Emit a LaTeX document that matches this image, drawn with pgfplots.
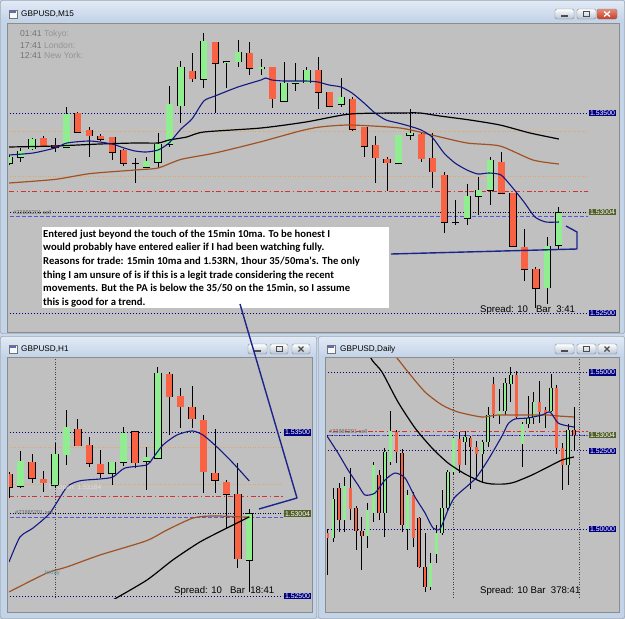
\documentclass[border=0pt]{standalone}
\usepackage{pgfplots}
\pgfplotsset{compat=1.18}
\usepackage{pgfplotstable}
\usepackage{fontspec}
\setmainfont{Liberation Sans}
\newfontfamily\carlito{Carlito}[BoldFont={Carlito Bold}]

\definecolor{chartbg}{RGB}{192,192,192}
\definecolor{frameblue}{RGB}{196,212,232}
\definecolor{titletop}{RGB}{224,233,245}
\definecolor{bull}{RGB}{144,238,144}
\definecolor{bear}{RGB}{250,98,68}
\definecolor{navyc}{RGB}{0,0,128}
\definecolor{maBlue}{RGB}{20,24,130}
\definecolor{maBrown}{RGB}{160,82,36}
\definecolor{orangeDot}{RGB}{226,166,96}
\definecolor{redDash}{RGB}{214,48,48}
\definecolor{blueDash}{RGB}{78,88,224}
\definecolor{tickgray}{RGB}{84,92,76}
\definecolor{olivebox}{RGB}{82,96,44}
\definecolor{annot}{RGB}{28,36,140}
\definecolor{closeTop}{RGB}{232,140,120}
\definecolor{closeBot}{RGB}{196,60,40}
\definecolor{todayc}{RGB}{90,150,160}

\tikzset{
  navydot/.style={navyc, line width=0.6pt, dash pattern=on 1.5pt off 1.5pt},
  biddot/.style={black!60!navyc, line width=0.6pt, dash pattern=on 1.2pt off 1.3pt},
  orangedot/.style={orangeDot, line width=0.55pt, dash pattern=on 1pt off 1.5pt},
  reddash/.style={redDash, line width=0.8pt, dash pattern=on 5pt off 2.5pt on 1.5pt off 2.5pt},
  bluedash/.style={blueDash, line width=0.8pt, dash pattern=on 4pt off 2pt},
  vdot/.style={black!75, line width=0.5pt, dash pattern=on 1pt off 1.5pt},
  pricebox/.style={anchor=west, fill=#1, text=white, font=\fontsize{6.9}{8}\selectfont, inner sep=0.8pt, xshift=1pt},
  mtbtn/.style={draw=black!45, rounded corners=1.5pt, top color=white, bottom color=frameblue!80!gray},
}

\pgfplotsset{
  mtaxis/.style={
    scale only axis, anchor=north west, clip mode=individual, set layers,
    axis background/.style={fill=chartbg},
    axis line style={draw=black!50, line width=0.5pt},
    xtick pos=left, ytick pos=right, tick align=outside,
    major tick length=2.5pt, tick style={black!55, line width=0.4pt},
    xticklabel style={font=\fontsize{6.9}{8}\selectfont, text=tickgray, anchor=north west, inner sep=0pt, xshift=0.5pt, yshift=-1.5pt},
    yticklabel style={font=\fontsize{6.9}{8}\selectfont, text=tickgray, anchor=west, inner sep=0pt, xshift=1.5pt},
  },
}

\newcommand\candles[6]{%
  \addplot[draw=none, mark=none, forget plot, error bars/.cd, y dir=both, y explicit, error mark=none,
    error bar style={draw=black, line width=#6}]
    table[x=x, y expr={(\thisrow{h}+\thisrow{l})/2}, y error expr={(\thisrow{h}-\thisrow{l})/2}]{#1};
  \addplot[draw=none, mark=none, forget plot, error bars/.cd, y dir=both, y explicit, error mark=none,
    error bar style={draw=black, line width=#3}]
    table[x=x, y expr={(\thisrow{o}+\thisrow{c})/2}, y error expr={abs(\thisrow{c}-\thisrow{o})/2+#5}]{#1};
  \addplot[draw=none, mark=none, forget plot, error bars/.cd, y dir=both, y explicit, error mark=none,
    error bar style={draw=#2, line width=#4}]
    table[x=x, y expr={(\thisrow{o}+\thisrow{c})/2}, y error expr={abs(\thisrow{c}-\thisrow{o})/2}]{#1};
}

% ---------------- M15 ----------------
\pgfplotstableread{
x o h l c
0 1.53250 1.53290 1.53240 1.53280
1 1.53280 1.53325 1.53255 1.53310
2 1.53320 1.53375 1.53315 1.53370
5 1.53330 1.53530 1.53330 1.53495
11 1.53250 1.53275 1.53150 1.53250
12 1.53230 1.53280 1.53230 1.53260
13 1.53255 1.53400 1.53225 1.53345
14 1.53345 1.53635 1.53330 1.53545
15 1.53535 1.53760 1.53450 1.53730
17 1.53670 1.53900 1.53625 1.53860
19 1.53752 1.53760 1.53625 1.53758
20 1.53755 1.53865 1.53730 1.53805
22 1.53720 1.53770 1.53690 1.53730
24 1.53560 1.53755 1.53555 1.53650
25 1.53650 1.53750 1.53610 1.53660
26 1.53650 1.53730 1.53650 1.53715
29 1.53545 1.53675 1.53530 1.53580
34 1.53250 1.53390 1.53250 1.53390
35 1.53390 1.53520 1.53365 1.53400
39 1.52955 1.53065 1.52940 1.52955
40 1.52975 1.53145 1.52940 1.53085
41 1.53085 1.53180 1.52990 1.53115
42 1.53115 1.53280 1.53040 1.53265
47 1.52625 1.52880 1.52545 1.52835
48 1.52840 1.53030 1.52820 1.53004
}\mBull
\pgfplotstableread{
x o h l c
3 1.53375 1.53385 1.53330 1.53335
4 1.53340 1.53375 1.53305 1.53330
6 1.53500 1.53505 1.53400 1.53405
7 1.53415 1.53430 1.53280 1.53385
8 1.53385 1.53395 1.53360 1.53370
9 1.53380 1.53380 1.53265 1.53305
10 1.53315 1.53320 1.53235 1.53250
16 1.53710 1.53800 1.53655 1.53670
18 1.53855 1.53855 1.53500 1.53750
21 1.53800 1.53855 1.53690 1.53725
23 1.53730 1.53730 1.53525 1.53570
27 1.53715 1.53780 1.53520 1.53605
28 1.53605 1.53605 1.53530 1.53535
30 1.53570 1.53580 1.53410 1.53420
31 1.53430 1.53430 1.53280 1.53335
32 1.53340 1.53385 1.53150 1.53275
33 1.53270 1.53280 1.53110 1.53250
36 1.53395 1.53405 1.53255 1.53270
37 1.53275 1.53400 1.53125 1.53205
38 1.53190 1.53205 1.52900 1.52955
43 1.53255 1.53305 1.53095 1.53100
44 1.53100 1.53100 1.52835 1.52835
45 1.52830 1.52920 1.52660 1.52720
46 1.52720 1.52730 1.52525 1.52625
}\mBear

% ---------------- H1 ----------------
\pgfplotstableread{
x o h l c
-3 1.53173 1.53387 1.53161 1.53326
0 1.53179 1.53436 1.53161 1.53369
1 1.53363 1.53638 1.53302 1.53534
5 1.53253 1.53320 1.53179 1.53320
6 1.53320 1.53534 1.53296 1.53497
8 1.53326 1.53412 1.53149 1.53351
9 1.53344 1.53901 1.53344 1.53864
17 1.52721 1.53032 1.52525 1.53004
}\hBull
\pgfplotstableread{
x o h l c
-4 1.53247 1.53259 1.53100 1.53167
-2 1.53320 1.53369 1.53192 1.53222
-1 1.53216 1.53265 1.53137 1.53192
2 1.53522 1.53583 1.53418 1.53418
3 1.53424 1.53473 1.53289 1.53314
4 1.53308 1.53393 1.53222 1.53253
7 1.53504 1.53504 1.53283 1.53314
10 1.53858 1.53871 1.53485 1.53718
11 1.53724 1.53773 1.53528 1.53656
12 1.53656 1.53785 1.53528 1.53583
13 1.53577 1.53607 1.53130 1.53259
14 1.53253 1.53522 1.53130 1.53210
15 1.53198 1.53210 1.52916 1.53124
16 1.53124 1.53314 1.52672 1.52727
}\hBear

% ---------------- Daily ----------------
\pgfplotstableread{
x o h l c
1 1.49715 1.51312 1.49587 1.50960
3 1.50290 1.51663 1.49906 1.51376
7 1.49779 1.50833 1.49395 1.50609
8 1.50513 1.52142 1.50226 1.52046
10 1.50513 1.52589 1.49747 1.52462
11 1.52142 1.53771 1.52046 1.53132
14 1.50002 1.51248 1.49332 1.51088
18 1.48150 1.49236 1.48054 1.48916
19 1.49204 1.50130 1.48916 1.49875
20 1.49875 1.51248 1.49811 1.50673
21 1.50673 1.51887 1.50609 1.51823
22 1.51823 1.52941 1.51727 1.52909
24 1.52781 1.53132 1.52046 1.52941
27 1.52398 1.52845 1.51471 1.52781
28 1.52781 1.53899 1.52621 1.53643
30 1.53643 1.54474 1.53356 1.53771
31 1.53771 1.54825 1.53643 1.54666
32 1.54634 1.55177 1.54059 1.54921
34 1.52717 1.53420 1.51983 1.53356
35 1.53356 1.54250 1.53228 1.53548
36 1.53548 1.54378 1.53356 1.54059
39 1.53771 1.54953 1.53739 1.54506
42 1.52046 1.53356 1.51408 1.53164
}\dBull
\pgfplotstableread{
x o h l c
0 1.49875 1.50002 1.48533 1.49715
2 1.51312 1.51471 1.49906 1.50290
4 1.51312 1.51951 1.50290 1.50641
5 1.50673 1.50737 1.49332 1.49938
6 1.49938 1.50386 1.48693 1.49779
9 1.51727 1.51887 1.50290 1.50513
12 1.53100 1.53164 1.52110 1.52462
13 1.52430 1.52557 1.49906 1.50130
15 1.51088 1.51184 1.49427 1.49715
16 1.50354 1.50386 1.48757 1.48789
17 1.48789 1.49875 1.47990 1.48150
23 1.52877 1.53100 1.51791 1.52046
25 1.52909 1.52973 1.51280 1.52621
26 1.52621 1.52813 1.51567 1.52398
29 1.54634 1.54857 1.53548 1.53675
33 1.54921 1.55049 1.53548 1.53580
37 1.54059 1.54729 1.53388 1.53739
38 1.53803 1.53899 1.53228 1.53707
40 1.54506 1.54602 1.52398 1.52589
41 1.52589 1.52749 1.51248 1.52046
43 1.53164 1.53899 1.52526 1.53004
}\dBear

\begin{document}
\begin{tikzpicture}
% ================= window chrome =================
\begin{scope}[x=1pt,y=-1pt]
\fill[frameblue!92!white] (0,0) rectangle (625,619);
\foreach \a/\b/\c/\d in {0/0/625/334, 0/336/317/619, 318/336/625/619}{
  \draw[black!45, fill=frameblue, rounded corners=2pt] (\a+0.5,\b+0.5) rectangle (\c-0.5,\d-0.5);
  \fill[top color=titletop, bottom color=frameblue] (\a+1.5,\b+1.5) rectangle (\c-1.5,\b+20);
}
\fill[chartbg] (7,23) rectangle (619,332);   \draw[black!45] (7,23) rectangle (619,332);
\fill[chartbg] (7,357) rectangle (312,612);  \draw[black!45] (7,357) rectangle (312,612);
\fill[chartbg] (325,357) rectangle (619,612);\draw[black!45] (325,357) rectangle (619,612);
% titles
\foreach \ix/\iy in {9/10, 9/345, 327/345}{
  \draw[black!55, fill=white!85!frameblue] (\ix,\iy) rectangle (\ix+8,\iy+8);
  \fill[navyc!60] (\ix+1,\iy+1) rectangle (\ix+7,\iy+2.5);
}
\node[anchor=west, font=\fontsize{8.2}{9}\selectfont, inner sep=0pt] at (21,14) {GBPUSD,M15};
\node[anchor=west, font=\fontsize{8.2}{9}\selectfont, inner sep=0pt] at (21,349) {GBPUSD,H1};
\node[anchor=west, font=\fontsize{8.2}{9}\selectfont, inner sep=0pt] at (340,349) {GBPUSD,Daily};
% buttons
\foreach \bx/\by/\bw in {555/9/19, 577/9/19, 248/344/19, 270/344/18, 292/344/18, 555/344/19, 577/344/19, 598/344/19}{
  \path[mtbtn] (\bx,\by) rectangle (\bx+\bw,\by+10);
}
\shade[rounded corners=1.5pt, top color=closeTop, bottom color=closeBot, draw=black!50] (597,9) rectangle (617,19);
\draw[white, line width=1.3pt] (604,11.5) -- (610,16.5) (604,16.5) -- (610,11.5);
\foreach \bx/\by in {555/9, 248/344, 555/344}{ \fill[black!70] (\bx+6,\by+6) rectangle (\bx+13,\by+7.6); }
\foreach \bx/\by in {577/9, 270/344, 577/344}{ \draw[black!70, line width=0.8pt] (\bx+6,\by+2.5) rectangle (\bx+12.5,\by+7.5); }
\foreach \bx/\by in {292/344, 598/344}{ \draw[black!70, line width=1.1pt] (\bx+6.5,\by+2.5) -- (\bx+11.5,\by+7.5) (\bx+6.5,\by+7.5) -- (\bx+11.5,\by+2.5); }
\end{scope}

% ================= M15 axis =================
\begin{axis}[mtaxis, at={(9pt,-24pt)}, width=579pt, height=293pt,
  xmin=-0.017, xmax=50.55, ymin=1.52480, ymax=1.53945,
  xtick={0,4,8,12,16,20,24,28,32,36,40,44,48},
  xticklabels={30 Apr 2010,30 Apr 06:30,30 Apr 07:30,30 Apr 08:30,30 Apr 09:30,30 Apr 10:30,30 Apr 11:30,30 Apr 12:30,30 Apr 13:30,30 Apr 14:30,30 Apr 15:30,30 Apr 16:30,30 Apr 17:30},
  ytick={1.53875,1.53760,1.53645,1.53530,1.53415,1.53300,1.53185,1.53070,1.52955,1.52840,1.52725,1.52610},
  yticklabels={1.53875,1.53760,1.53645,1.53530,1.53415,1.53300,1.53185,1.53070,1.52955,1.52840,1.52725,1.52610},
]
\addplot[navydot] coordinates {(-1,1.53500) (52,1.53500)};
\addplot[orangedot] coordinates {(-1,1.53410) (52,1.53410)};
\addplot[orangedot] coordinates {(-1,1.53184) (52,1.53184)};
\addplot[reddash] coordinates {(-1,1.53108) (52,1.53108)};
\addplot[biddot] coordinates {(-1,1.53004) (52,1.53004)};
\addplot[bluedash] coordinates {(-1,1.52982) (52,1.52982)};
\addplot[navydot] coordinates {(-1,1.52500) (52,1.52500)};
\candles{\mBull}{bull}{7.2pt}{6.2pt}{0.00002}{0.9pt}
\candles{\mBear}{bear}{7.2pt}{6.2pt}{0.00002}{0.9pt}
\addplot[maBrown, line width=1.2pt, smooth, tension=0.4] coordinates {(-0.02,1.53150) (4.0,1.53168) (7.06,1.53197) (10.99,1.53215) (13.0,1.53225) (15.0,1.53268) (17.97,1.53300) (21.9,1.53355) (25.4,1.53410) (27.14,1.53430) (29.76,1.53440) (34.13,1.53425) (36.9,1.53390) (39.98,1.53350) (42.86,1.53335) (45.74,1.53265) (48,1.53245)};
\addplot[black, line width=1.2pt, smooth, tension=0.4] coordinates {(-0.02,1.53330) (4.0,1.53335) (7.93,1.53345) (10.99,1.53350) (13.0,1.53350) (13.96,1.53365) (15.5,1.53380) (17.0,1.53405) (22.0,1.53425) (25.92,1.53455) (29.76,1.53495) (34.13,1.53500) (35.88,1.53500) (37.62,1.53485) (40.24,1.53465) (42.86,1.53440) (45.48,1.53400) (48,1.53370)};
\addplot[maBlue, line width=1.1pt, smooth, tension=0.4] coordinates {(-0.02,1.53290) (2.08,1.53300) (4.0,1.53325) (5.05,1.53350) (7.06,1.53360) (8.98,1.53345) (10.03,1.53325) (10.99,1.53310) (11.95,1.53305) (13.0,1.53315) (13.96,1.53350) (15.0,1.53420) (15.96,1.53470) (17.0,1.53560) (17.97,1.53585) (19.98,1.53630) (21.99,1.53665) (22.4,1.53675) (22.95,1.53665) (24.0,1.53660) (25.92,1.53660) (26.97,1.53655) (27.93,1.53640) (28.98,1.53630) (29.94,1.53600) (30.99,1.53550) (31.95,1.53500) (32.91,1.53465) (33.96,1.53450) (34.92,1.53435) (35.97,1.53415) (36.93,1.53380) (37.97,1.53300) (38.93,1.53250) (39.98,1.53215) (40.94,1.53195) (41.9,1.53200) (42.95,1.53190) (43.91,1.53130) (44.96,1.53055) (45.92,1.52980) (46.88,1.52955) (48,1.52955)};
\node[pricebox=navyc] at (axis cs:50.55,1.53500) {1.53500};
\node[pricebox=olivebox] at (axis cs:50.55,1.53004) {1.53004};
\node[pricebox=navyc] at (axis cs:50.55,1.52500) {1.52500};
\end{axis}

% ================= H1 axis =================
\begin{axis}[mtaxis, at={(9pt,-358pt)}, width=274pt, height=240pt,
  xmin=-4.02, xmax=19.95, ymin=1.52488, ymax=1.53956,
  xtick={-4,0,4,8,12,16},
  xticklabels={29 Apr 2010,30 Apr 00:00,30 Apr 04:00,30 Apr 08:00,30 Apr 12:00,30 Apr 16:00},
  ytick={1.53895,1.53755,1.53615,1.53475,1.53335,1.53195,1.53055,1.52915,1.52775,1.52635},
  yticklabels={1.53895,1.53755,1.53615,1.53475,1.53335,1.53195,1.53055,1.52915,1.52775,1.52635},
]
\addplot[vdot] coordinates {(0,1.52) (0,1.54)};
\addplot[navydot] coordinates {(-5,1.53500) (21,1.53500)};
\addplot[orangedot] coordinates {(-5,1.53410) (21,1.53410)};
\addplot[orangedot] coordinates {(-5,1.53184) (21,1.53184)};
\addplot[reddash] coordinates {(-5,1.53108) (21,1.53108)};
\addplot[biddot] coordinates {(-5,1.53004) (21,1.53004)};
\addplot[bluedash] coordinates {(-5,1.52982) (21,1.52982)};
\addplot[navydot] coordinates {(-5,1.52500) (21,1.52500)};
\candles{\hBull}{bull}{7.4pt}{6.4pt}{0.000025}{0.9pt}
\candles{\hBear}{bear}{7.4pt}{6.4pt}{0.000025}{0.9pt}
\addplot[maBrown, line width=1.2pt, smooth, tension=0.4] coordinates {(-4.02,1.52525) (-0.7,1.52641) (1.05,1.52678) (3.94,1.52751) (7.96,1.52837) (9.8,1.52904) (12.07,1.52977) (13.82,1.52990) (16.45,1.52984) (17,1.52984)};
\addplot[black, line width=1.2pt, smooth, tension=0.4] coordinates {(5.07,1.52476) (8.05,1.52598) (10.32,1.52721) (12.69,1.52831) (15.05,1.52916) (16.62,1.52971) (17,1.52984)};
\addplot[maBlue, line width=1.1pt, smooth, tension=0.4] coordinates {(-4.02,1.52708) (-3.06,1.52861) (-1.92,1.52916) (-0.44,1.53008) (1.05,1.53167) (2.19,1.53205) (3.94,1.53216) (5.07,1.53228) (6.12,1.53283) (8.05,1.53302) (8.57,1.53344) (9.45,1.53424) (10.67,1.53485) (11.99,1.53510) (12.95,1.53485) (14.17,1.53412) (15.57,1.53314) (17,1.53204)};
\node[pricebox=navyc] at (axis cs:19.95,1.53500) {1.53500};
\node[pricebox=olivebox] at (axis cs:19.95,1.53004) {1.53004};
\node[pricebox=navyc] at (axis cs:19.95,1.52500) {1.52500};
\end{axis}

% ================= Daily axis =================
\begin{axis}[mtaxis, at={(327pt,-358pt)}, width=261pt, height=240pt,
  xmin=-0.09, xmax=45.46, ymin=1.47798, ymax=1.55464,
  xtick={0,8,16,24,32,40},
  xticklabels={2 Mar 2010,12 Mar 2010,24 Mar 2010,5 Apr 2010,15 Apr 2010,27 Apr 2010},
  ytick={1.55150,1.54410,1.53690,1.52210,1.51490,1.50750,1.49290,1.48550,1.47830},
  yticklabels={1.55150,1.54410,1.53690,1.52210,1.51490,1.50750,1.49290,1.48550,1.47830},
]
\addplot[vdot] coordinates {(22,1.47) (22,1.56)};
\addplot[vdot] coordinates {(44,1.47) (44,1.56)};
\addplot[navydot] coordinates {(-1,1.55000) (46,1.55000)};
\addplot[reddash] coordinates {(-1,1.53108) (46,1.53108)};
\addplot[biddot] coordinates {(-1,1.53004) (46,1.53004)};
\addplot[bluedash] coordinates {(-1,1.52982) (46,1.52982)};
\addplot[navydot] coordinates {(-1,1.52500) (46,1.52500)};
\addplot[navydot] coordinates {(-1,1.50000) (46,1.50000)};
\candles{\dBull}{bull}{3.4pt}{2.5pt}{0.00013}{0.8pt}
\candles{\dBear}{bear}{3.4pt}{2.5pt}{0.00013}{0.8pt}
\addplot[maBrown, line width=1.2pt, smooth, tension=0.4] coordinates {(10.91,1.55720) (12.13,1.55464) (14.05,1.55017) (17.02,1.54378) (19.98,1.53963) (22.77,1.53739) (26.95,1.53580) (29.75,1.53643) (35.69,1.53643) (38.48,1.53643) (40.23,1.53612) (43,1.53580)};
\addplot[black, line width=1.2pt, smooth, tension=0.4] coordinates {(6.02,1.56039) (7.77,1.55400) (9.51,1.55017) (12.3,1.54059) (15.27,1.53228) (18.24,1.52589) (21.03,1.52110) (23.99,1.51759) (26.95,1.51503) (28.7,1.51440) (30.97,1.51440) (32.72,1.51503) (35.69,1.51727) (38.48,1.51983) (40.92,1.52206) (43,1.52302)};
\addplot[maBlue, line width=1.1pt, smooth, tension=0.4] coordinates {(-0.09,1.52973) (1.83,1.52430) (3.58,1.51887) (5.32,1.51408) (6.54,1.51088) (8.29,1.51152) (10.03,1.51567) (11.78,1.51791) (13.53,1.51631) (15.27,1.51024) (17.02,1.50513) (18.41,1.50034) (19.63,1.50002) (21.03,1.50609) (22.25,1.51024) (25.74,1.51599) (28.01,1.52206) (30.45,1.52973) (31.5,1.53356) (32.72,1.53516) (34.99,1.53548) (37.43,1.53643) (38.83,1.53739) (40.23,1.53388) (41.97,1.53292) (43,1.53260)};
\node[pricebox=navyc] at (axis cs:45.46,1.55000) {1.55000};
\node[pricebox=olivebox] at (axis cs:45.46,1.53004) {1.53004};
\node[pricebox=navyc] at (axis cs:45.46,1.52500) {1.52500};
\node[pricebox=navyc] at (axis cs:45.46,1.50000) {1.50000};
\end{axis}

% ================= texts and drawings =================
\begin{scope}[x=1pt,y=-1pt]
\node[anchor=west, inner sep=0pt, font=\fontsize{8.6}{10}\selectfont] at (20,34) {\textcolor{black!55}{01:41} \textcolor{black!42}{Tokyo:}};
\node[anchor=west, inner sep=0pt, font=\fontsize{8.6}{10}\selectfont] at (20,45) {\textcolor{black!55}{17:41} \textcolor{black!42}{London:}};
\node[anchor=west, inner sep=0pt, font=\fontsize{8.6}{10}\selectfont] at (20,55) {\textcolor{black!55}{12:41} \textcolor{black!42}{New York:}};
\node[anchor=west, inner sep=0pt, font=\fontsize{5.6}{6}\selectfont, text=black!60] at (13,212) {\#23885201 sell};
\node[anchor=west, inner sep=0pt, font=\fontsize{5.6}{6}\selectfont, text=black!60] at (15,512) {\#23885201 sell};
\node[anchor=west, inner sep=0pt, font=\fontsize{5.6}{6}\selectfont, text=black!60] at (329,431) {\#23885201 sell};
\node[anchor=west, inner sep=0pt, font=\fontsize{6.5}{7}\selectfont, text=white!88!black] at (48,488) {T : Open: 1.53184};
\node[anchor=west, inner sep=0pt, font=\fontsize{6}{7}\selectfont, text=todayc] at (45,573) {today};
\node[anchor=west, inner sep=0pt, font=\fontsize{9.6}{11}\selectfont] at (480,310) {Spread: 10\ \ \ Bar\ \ 3:41};
\node[anchor=west, inner sep=0pt, font=\fontsize{9.6}{11}\selectfont] at (174,591) {Spread: 10\ \ \ Bar\ \ 18:41};
\node[anchor=west, inner sep=0pt, font=\fontsize{9.6}{11}\selectfont] at (480,591) {Spread: 10 Bar\ \ 378:41};
% comment box
\fill[white] (42,227) rectangle (389,308);
\foreach \yy/\tt in {237/{Entered just beyond the touch of the 15min 10ma. To be honest I},
  250.7/{would probably have entered ealier if I had been watching fully.},
  264.3/{Reasons for trade: 15min 10ma and 1.53RN, 1hour 35/50ma's. The only},
  278/{thing I am unsure of is if this is a legit trade considering the recent},
  291.4/{movements. But the PA is below the 35/50 on the 15min, so I assume},
  305/{this is good for a trend.}}{
  \node[anchor=base west, inner sep=0pt, font=\carlito\bfseries\fontsize{10.65}{12}\selectfont] at (43,\yy) {\tt};
}
% hand-drawn lines
\draw[annot, line width=1.4pt, line join=round] (391,254) -- (577,249) -- (577,232) -- (566,226);
\draw[annot, line width=1.4pt, line join=round] (240,304) -- (297,498) -- (259,509);
\end{scope}
\pgfresetboundingbox
\path[use as bounding box] (0pt,0pt) rectangle (625pt,-619pt);
\end{tikzpicture}
\end{document}
